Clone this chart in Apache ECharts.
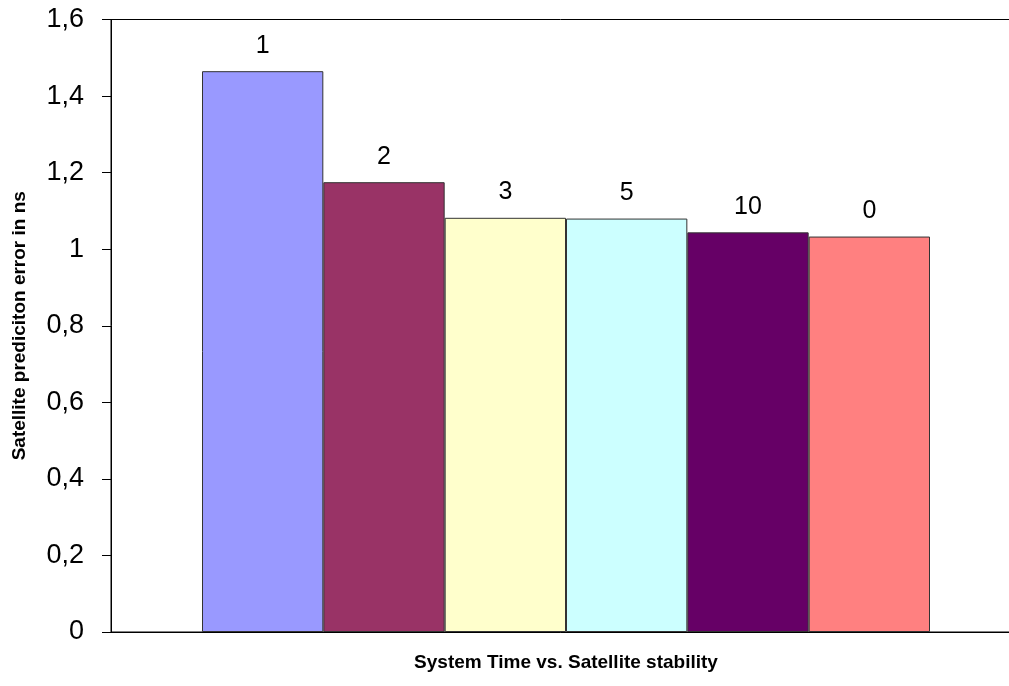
<!DOCTYPE html>
<html>
<head>
<meta charset="utf-8">
<script src="https://cdn.jsdelivr.net/npm/echarts@6/dist/echarts.min.js"></script>
<style>
html,body{margin:0;padding:0;background:#fff;}
#chart{width:1009px;height:686px;}
</style>
</head>
<body>
<div id="chart"></div>
<script>
var categories = [''];
var seriesNames = ['1', '2', '3', '5', '10', '0'];
var seriesValues = [1.465, 1.175, 1.082, 1.080, 1.044, 1.033];
var seriesColors = ['#9999FF', '#993366', '#FFFFCC', '#CCFFFF', '#660066', '#FF8080'];
var yTicks = { min: 0, max: 1.6, interval: 0.2 };
var xTitle = 'System Time vs. Satellite stability';
var yTitle = 'Satellite prediciton error in ns';

var font = "Arial, 'Liberation Sans', sans-serif";

var series = seriesNames.map(function (name, i) {
  return {
    name: name,
    type: 'bar',
    data: [seriesValues[i]],
    barGap: '0%',
    barCategoryGap: '20%',
    itemStyle: { color: seriesColors[i], borderColor: '#333', borderWidth: 1 },
    label: {
      show: true,
      position: 'top',
      distance: 13,
      formatter: function (p) { return p.seriesName; },
      fontFamily: font,
      fontSize: 25,
      color: '#000'
    },
    emphasis: { disabled: true },
    animation: false
  };
});

var chart = echarts.init(document.getElementById('chart'), null, { renderer: 'canvas' });
chart.setOption({
  animation: false,
  grid: {
    left: 111, top: 19.5, width: 910, height: 612.5,
    outerBoundsMode: 'none',
    containLabel: false,
    show: true, borderColor: '#000', borderWidth: 1, backgroundColor: 'transparent'
  },
  xAxis: {
    type: 'category',
    data: categories,
    name: xTitle,
    nameLocation: 'middle',
    nameGap: 21,
    nameTextStyle: { fontFamily: font, fontWeight: 'bold', fontSize: 19, color: '#000' },
    axisLine: { show: true, lineStyle: { color: '#000', width: 1 } },
    axisTick: { show: false },
    axisLabel: { show: false }
  },
  yAxis: {
    type: 'value',
    min: yTicks.min,
    max: yTicks.max,
    interval: yTicks.interval,
    name: yTitle,
    nameLocation: 'middle',
    nameGap: 82,
    nameTextStyle: { fontFamily: font, fontWeight: 'bold', fontSize: 19, color: '#000' },
    axisLine: { show: true, lineStyle: { color: '#000', width: 1 } },
    axisTick: { show: true, length: 9, inside: false, lineStyle: { color: '#000' } },
    splitLine: { show: false },
    axisLabel: {
      margin: 27,
      fontFamily: font,
      fontSize: 27,
      color: '#000',
      formatter: function (v) { return String(+v.toFixed(1)).replace('.', ','); }
    }
  },
  series: series
});
</script>
</body>
</html>
